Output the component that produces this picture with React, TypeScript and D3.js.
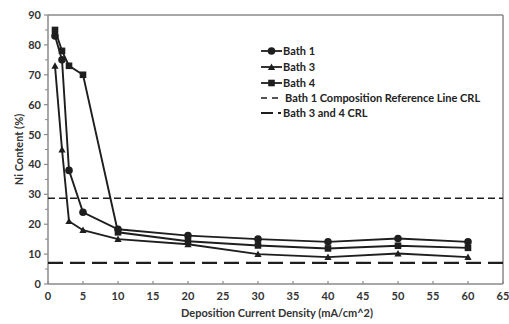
import React from "react";
import * as d3 from "d3";

const xValues = [1, 2, 3, 5, 10, 20, 30, 40, 50, 60];
const bath1 = [83, 75, 38, 24, 18.3, 16.2, 15, 14.1, 15.2, 14.1];
const bath3 = [73, 45, 21, 18, 15, 13.3, 10, 9, 10.2, 9];
const bath4 = [85, 78, 73, 70, 17.3, 14.3, 12.9, 11.9, 12.8, 12.1];
const crlBath1 = 28.7;
const crlBath34 = 7.1;
const xTicks = [0, 5, 10, 15, 20, 25, 30, 35, 40, 45, 50, 55, 60, 65];
const yTicks = [0, 10, 20, 30, 40, 50, 60, 70, 80, 90];
const legendLabels = ["Bath 1", "Bath 3", "Bath 4", "Bath 1 Composition Reference Line CRL", "Bath 3 and 4 CRL"];

const W = 509, H = 324;
const L = 48, R = 503, T = 15, B = 284;
const FONT = "Lato, 'Open Sans', sans-serif";
const INK = "#1e1e1e";

function Marker({ kind, x, y }: { kind: string; x: number; y: number }) {
  if (kind === "circle") return <circle cx={x} cy={y} r={3.8} fill={INK} />;
  if (kind === "square") return <rect x={x - 3.3} y={y - 3.3} width={6.6} height={6.6} fill={INK} />;
  const s = 3.6;
  return <path d={`M${x},${y - s}L${x + s},${y + s * 0.8}L${x - s},${y + s * 0.8}Z`} fill={INK} />;
}

export default function App() {
  const x = d3.scaleLinear().domain([0, 65]).range([L, R]);
  const y = d3.scaleLinear().domain([0, 90]).range([B, T]);
  const line = d3.line<[number, number]>().x((d) => x(d[0])).y((d) => y(d[1]));
  const series = [
    { vals: bath1, kind: "circle" },
    { vals: bath3, kind: "triangle" },
    { vals: bath4, kind: "square" },
  ];
  const minorY = d3.range(5, 90, 10);
  const legendY = [51, 67, 83, 98, 113];
  const lx0 = 261, lx1 = 282;
  return (
    <svg width={W} height={H} style={{ position: "absolute", left: 0, top: 0, background: "#fff" }}>
      <line x1={L} x2={R} y1={T} y2={T} stroke="#8a8a8a" strokeWidth={1.5} />
      <line x1={R} x2={R} y1={T} y2={B} stroke="#8a8a8a" strokeWidth={1.5} />
      <line x1={L} x2={L} y1={T} y2={B} stroke="#8a8a8a" strokeWidth={1.5} />
      <line x1={L} x2={R} y1={B} y2={B} stroke="#8a8a8a" strokeWidth={1.5} />
      {yTicks.map((t) => (
        <g key={"y" + t}>
          <line x1={L - 4} x2={L} y1={y(t)} y2={y(t)} stroke="#8a8a8a" strokeWidth={1.2} />
          <text x={L - 7} y={y(t) + 4} textAnchor="end" fontFamily={FONT} fontWeight="bold" fontSize={11} fill="#333">
            {t}
          </text>
        </g>
      ))}
      {minorY.map((t) => (
        <line key={"my" + t} x1={L - 3} x2={L} y1={y(t)} y2={y(t)} stroke="#8a8a8a" strokeWidth={1} />
      ))}
      {xTicks.map((t) => (
        <g key={"x" + t}>
          <line x1={x(t)} x2={x(t)} y1={B} y2={B - 3} stroke="#8a8a8a" strokeWidth={1.2} />
          <text x={x(t)} y={300} textAnchor="middle" fontFamily={FONT} fontWeight="bold" fontSize={11} fill="#333">
            {t}
          </text>
        </g>
      ))}
      <text x={277} y={317} textAnchor="middle" fontFamily={FONT} fontWeight="bold" fontSize={11} fill="#333">
        Deposition Current Density (mA/cm^2)
      </text>
      <text transform={`translate(23,${(T + B) / 2}) rotate(-90)`} textAnchor="middle" fontFamily={FONT} fontWeight="bold" fontSize={11} fill="#333">
        Ni Content (%)
      </text>
      <line x1={L} x2={R} y1={y(crlBath1)} y2={y(crlBath1)} stroke={INK} strokeWidth={1.6} strokeDasharray="7,4" />
      <line x1={L} x2={R} y1={y(crlBath34)} y2={y(crlBath34)} stroke={INK} strokeWidth={2.2} strokeDasharray="15,7" />
      {series.map((s, i) => {
        const pts = xValues.map((xv, j) => [xv, s.vals[j]] as [number, number]);
        return (
          <g key={"s" + i}>
            <path d={line(pts) || ""} fill="none" stroke={INK} strokeWidth={1.9} />
            {pts.map((p, j) => (
              <Marker key={j} kind={s.kind} x={x(p[0])} y={y(p[1])} />
            ))}
          </g>
        );
      })}
      {legendLabels.map((lab, i) => {
        const yy = legendY[i];
        let sym: React.ReactNode = null;
        if (i < 3) {
          sym = (
            <g>
              <line x1={lx0} x2={lx1} y1={yy} y2={yy} stroke={INK} strokeWidth={1.8} />
              <Marker kind={series[i].kind} x={(lx0 + lx1) / 2} y={yy} />
            </g>
          );
        } else if (i === 3) {
          sym = <line x1={lx0} x2={lx1} y1={yy} y2={yy} stroke={INK} strokeWidth={1.6} strokeDasharray="6,5" />;
        } else {
          sym = <line x1={lx0} x2={lx1 - 1} y1={yy} y2={yy} stroke={INK} strokeWidth={2} strokeDasharray="12,5" />;
        }
        return (
          <g key={"l" + i}>
            {sym}
            <text x={i === 3 ? 285 : 283} y={yy + 4} fontFamily={FONT} fontWeight="bold" fontSize={11} fill="#222">
              {lab}
            </text>
          </g>
        );
      })}
    </svg>
  );
}
